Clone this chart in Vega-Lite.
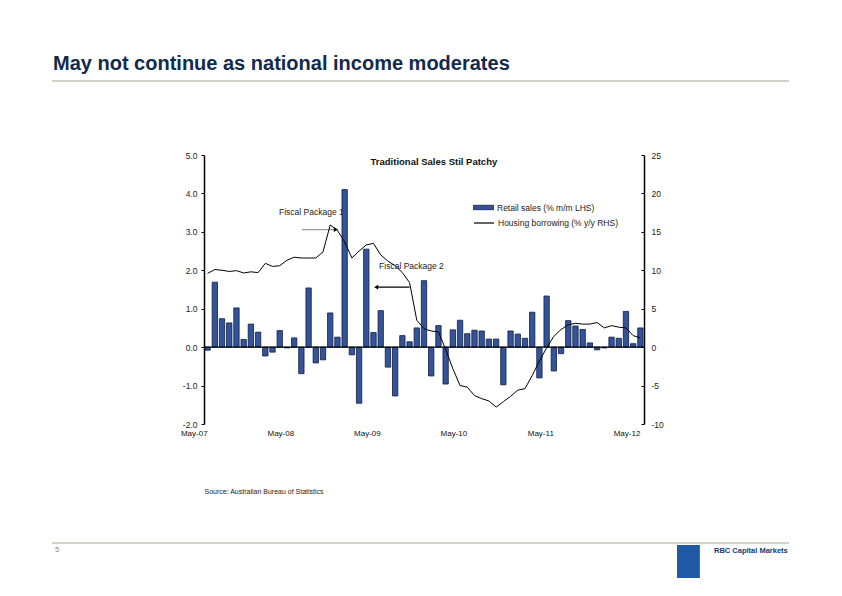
{
  "$schema": "https://vega.github.io/schema/vega-lite/v6.json",
  "width": 440,
  "height": 269,
  "autosize": {"type": "none"},
  "padding": {"left": 204, "top": 155, "right": 198, "bottom": 172},
  "background": "white",
  "title": {
    "text": "May not continue as national income moderates",
    "anchor": "start",
    "frame": "group",
    "dx": -151,
    "offset": 6,
    "fontSize": 20,
    "fontWeight": "bold",
    "font": "Liberation Sans",
    "color": "#112a4e"
  },
  "config": {
    "view": {"stroke": null},
    "font": "Liberation Sans",
    "axis": {"grid": false, "labelFont": "Liberation Sans", "labelFontSize": 8, "labelColor": "#222222", "domainColor": "#000000", "tickColor": "#000000", "labelOverlap": false},
    "legend": {"labelFont": "Liberation Sans", "labelFontSize": 8.5, "labelColor": "#222222"}
  },
  "datasets": {
    "monthly": [
      {"m": "May-07", "retail": -0.08, "housing": 9.6},
      {"m": "Jun-07", "retail": 1.69, "housing": 10.1},
      {"m": "Jul-07", "retail": 0.74, "housing": 10.0},
      {"m": "Aug-07", "retail": 0.63, "housing": 9.85},
      {"m": "Sep-07", "retail": 1.02, "housing": 9.95},
      {"m": "Oct-07", "retail": 0.20, "housing": 9.65},
      {"m": "Nov-07", "retail": 0.60, "housing": 9.8},
      {"m": "Dec-07", "retail": 0.39, "housing": 9.7},
      {"m": "Jan-08", "retail": -0.23, "housing": 10.9},
      {"m": "Feb-08", "retail": -0.13, "housing": 10.5},
      {"m": "Mar-08", "retail": 0.43, "housing": 10.6},
      {"m": "Apr-08", "retail": -0.02, "housing": 11.3},
      {"m": "May-08", "retail": 0.24, "housing": 11.7},
      {"m": "Jun-08", "retail": -0.69, "housing": 11.6},
      {"m": "Jul-08", "retail": 1.54, "housing": 11.6},
      {"m": "Aug-08", "retail": -0.41, "housing": 11.6},
      {"m": "Sep-08", "retail": -0.33, "housing": 12.4},
      {"m": "Oct-08", "retail": 0.89, "housing": 15.9},
      {"m": "Nov-08", "retail": 0.26, "housing": 15.2},
      {"m": "Dec-08", "retail": 4.10, "housing": 13.7},
      {"m": "Jan-09", "retail": -0.20, "housing": 11.6},
      {"m": "Feb-09", "retail": -1.46, "housing": 12.5},
      {"m": "Mar-09", "retail": 2.55, "housing": 13.3},
      {"m": "Apr-09", "retail": 0.38, "housing": 13.5},
      {"m": "May-09", "retail": 0.95, "housing": 12.0},
      {"m": "Jun-09", "retail": -0.52, "housing": 11.2},
      {"m": "Jul-09", "retail": -1.27, "housing": 10.6},
      {"m": "Aug-09", "retail": 0.30, "housing": 9.7},
      {"m": "Sep-09", "retail": 0.14, "housing": 8.4},
      {"m": "Oct-09", "retail": 0.50, "housing": 3.5},
      {"m": "Nov-09", "retail": 1.73, "housing": 2.4},
      {"m": "Dec-09", "retail": -0.75, "housing": 2.1},
      {"m": "Jan-10", "retail": 0.56, "housing": 2.0},
      {"m": "Feb-10", "retail": -0.96, "housing": -0.3},
      {"m": "Mar-10", "retail": 0.45, "housing": -2.8},
      {"m": "Apr-10", "retail": 0.70, "housing": -5.0},
      {"m": "May-10", "retail": 0.35, "housing": -5.2},
      {"m": "Jun-10", "retail": 0.44, "housing": -6.3},
      {"m": "Jul-10", "retail": 0.42, "housing": -6.7},
      {"m": "Aug-10", "retail": 0.21, "housing": -7.0},
      {"m": "Sep-10", "retail": 0.21, "housing": -7.8},
      {"m": "Oct-10", "retail": -0.98, "housing": -7.1},
      {"m": "Nov-10", "retail": 0.42, "housing": -6.4},
      {"m": "Dec-10", "retail": 0.34, "housing": -5.6},
      {"m": "Jan-11", "retail": 0.23, "housing": -5.4},
      {"m": "Feb-11", "retail": 0.91, "housing": -3.7},
      {"m": "Mar-11", "retail": -0.80, "housing": -1.8},
      {"m": "Apr-11", "retail": 1.33, "housing": -0.1},
      {"m": "May-11", "retail": -0.62, "housing": 1.4},
      {"m": "Jun-11", "retail": -0.17, "housing": 2.3},
      {"m": "Jul-11", "retail": 0.69, "housing": 2.9},
      {"m": "Aug-11", "retail": 0.55, "housing": 3.1},
      {"m": "Sep-11", "retail": 0.46, "housing": 3.0},
      {"m": "Oct-11", "retail": 0.11, "housing": 3.0},
      {"m": "Nov-11", "retail": -0.07, "housing": 3.2},
      {"m": "Dec-11", "retail": -0.02, "housing": 2.5},
      {"m": "Jan-12", "retail": 0.26, "housing": 2.8},
      {"m": "Feb-12", "retail": 0.23, "housing": 2.6},
      {"m": "Mar-12", "retail": 0.93, "housing": 2.5},
      {"m": "Apr-12", "retail": 0.09, "housing": 1.5},
      {"m": "May-12", "retail": 0.50, "housing": 1.2}
    ]
  },
  "layer": [
    {
      "data": {"name": "monthly"},
      "layer": [
        {
          "data": {"values": [{}]},
          "mark": {"type": "text", "text": "Fiscal Package 1", "align": "left", "baseline": "middle", "fontSize": 8.5, "color": "#222222"},
          "encoding": {
            "x": {"datum": "Mar-08", "type": "ordinal", "bandPosition": 0.37},
            "y": {"datum": 3.52, "type": "quantitative", "scale": {"domain": [-2, 5], "nice": false, "zero": false}, "axis": null}
          }
        },
        {
          "data": {"values": [{}]},
          "mark": {"type": "text", "text": "Fiscal Package 2", "align": "left", "baseline": "middle", "fontSize": 8.5, "color": "#222222"},
          "encoding": {
            "x": {"datum": "May-09", "type": "ordinal", "bandPosition": 0.2},
            "y": {"datum": 2.11, "type": "quantitative", "scale": {"domain": [-2, 5], "nice": false, "zero": false}, "axis": null}
          }
        },
        {
          "data": {"values": [{}]},
          "mark": {"type": "text", "text": "Traditional Sales Stil Patchy", "align": "center", "baseline": "middle", "fontSize": 9.5, "fontWeight": "bold", "color": "#111111"},
          "encoding": {
            "x": {"datum": "Dec-09", "type": "ordinal", "bandPosition": 1},
            "y": {"datum": 4.82, "type": "quantitative", "scale": {"domain": [-2, 5], "nice": false, "zero": false}, "axis": null}
          }
        },
        {
          "mark": {"type": "bar", "stroke": "#101c40", "strokeWidth": 0.8},
          "encoding": {
            "x": {
              "field": "m",
              "type": "ordinal",
              "sort": null,
              "scale": {
                "type": "band",
                "paddingInner": 0.26,
                "paddingOuter": 0.13,
                "domain": ["May-07","Jun-07","Jul-07","Aug-07","Sep-07","Oct-07","Nov-07","Dec-07","Jan-08","Feb-08","Mar-08","Apr-08","May-08","Jun-08","Jul-08","Aug-08","Sep-08","Oct-08","Nov-08","Dec-08","Jan-09","Feb-09","Mar-09","Apr-09","May-09","Jun-09","Jul-09","Aug-09","Sep-09","Oct-09","Nov-09","Dec-09","Jan-10","Feb-10","Mar-10","Apr-10","May-10","Jun-10","Jul-10","Aug-10","Sep-10","Oct-10","Nov-10","Dec-10","Jan-11","Feb-11","Mar-11","Apr-11","May-11","Jun-11","Jul-11","Aug-11","Sep-11","Oct-11","Nov-11","Dec-11","Jan-12","Feb-12","Mar-12","Apr-12","May-12"]
              },
              "axis": {
                "values": ["May-07", "May-08", "May-09", "May-10", "May-11", "May-12"],
                "domain": false,
                "ticks": false,
                "labelAngle": 0,
                "labelPadding": 9,
                "labelFontSize": 8,
                "labelColor": "#111111",
                "title": "Source: Australian Bureau of Statistics",
                "titleAnchor": "start",
                "titleFontSize": 7,
                "titleFontWeight": "normal",
                "titleColor": "#222222",
                "titlePadding": 50
              }
            },
            "y": {
              "field": "retail",
              "type": "quantitative",
              "scale": {"domain": [-2, 5], "nice": false, "zero": false},
              "axis": {
                "orient": "left",
                "values": [-2, -1, 0, 1, 2, 3, 4, 5],
                "labelExpr": "datum.value < 0 ? '-' + format(-datum.value, '.1f') : format(datum.value, '.1f')",
                "title": null,
                "domainWidth": 1.5,
                "tickSize": 3,
                "labelPadding": 4,
                "labelFontSize": 8.5
              }
            },
            "color": {
              "datum": "Retail sales (% m/m LHS)",
              "type": "nominal",
              "scale": {"range": ["#34549a"]},
              "legend": {
                "orient": "none",
                "legendX": 269,
                "legendY": 42,
                "title": null,
                "padding": 0,
                "symbolType": "M-1,-0.22H1V0.22H-1Z",
                "symbolSize": 400,
                "symbolStrokeColor": "#101c40",
                "symbolStrokeWidth": 0.8,
                "labelOffset": 3
              }
            }
          }
        },
        {
          "data": {"values": [{}]},
          "mark": {"type": "rule", "color": "#000000", "strokeWidth": 1.2},
          "encoding": {"y": {"datum": 0, "type": "quantitative", "scale": {"domain": [-2, 5], "nice": false, "zero": false}, "axis": null}}
        },
        {
          "data": {"values": [{}]},
          "mark": {"type": "rule", "color": "#9a9a9a", "strokeWidth": 1.2},
          "encoding": {
            "x": {"datum": "Jun-08", "type": "ordinal", "bandPosition": 0.6},
            "x2": {"datum": "Nov-08"},
            "y": {"datum": 3.06, "type": "quantitative", "scale": {"domain": [-2, 5], "nice": false, "zero": false}, "axis": null}
          }
        },
        {
          "data": {"values": [{}]},
          "mark": {"type": "point", "shape": "triangle-right", "filled": true, "color": "#000000", "size": 22, "opacity": 1},
          "encoding": {
            "x": {"datum": "Nov-08", "type": "ordinal", "bandPosition": 0.2},
            "y": {"datum": 3.06, "type": "quantitative", "scale": {"domain": [-2, 5], "nice": false, "zero": false}, "axis": null}
          }
        },
        {
          "data": {"values": [{}]},
          "mark": {"type": "rule", "color": "#000000", "strokeWidth": 1.2},
          "encoding": {
            "x": {"datum": "Apr-09", "type": "ordinal", "bandPosition": 1},
            "x2": {"datum": "Sep-09"},
            "y": {"datum": 1.56, "type": "quantitative", "scale": {"domain": [-2, 5], "nice": false, "zero": false}, "axis": null}
          }
        },
        {
          "data": {"values": [{}]},
          "mark": {"type": "point", "shape": "triangle-left", "filled": true, "color": "#000000", "size": 22, "opacity": 1},
          "encoding": {
            "x": {"datum": "Apr-09", "type": "ordinal", "bandPosition": 1},
            "y": {"datum": 1.56, "type": "quantitative", "scale": {"domain": [-2, 5], "nice": false, "zero": false}, "axis": null}
          }
        },
        {
          "mark": {"type": "line", "strokeWidth": 1, "interpolate": "linear"},
          "encoding": {
            "x": {"field": "m", "type": "ordinal", "sort": null, "bandPosition": 0.5},
            "y": {
              "field": "housing",
              "type": "quantitative",
              "scale": {"domain": [-10, 25], "nice": false, "zero": false},
              "axis": {
                "orient": "right",
                "values": [-10, -5, 0, 5, 10, 15, 20, 25],
                "labelExpr": "datum.value < 0 ? '-' + format(-datum.value, 'd') : format(datum.value, 'd')",
                "title": null,
                "domainWidth": 1.5,
                "tickSize": -3,
                "labelPadding": 10,
                "labelFontSize": 8.5
              }
            },
            "stroke": {
              "datum": "Housing borrowing (% y/y RHS)",
              "type": "nominal",
              "scale": {"range": ["#000000"]},
              "legend": {
                "orient": "none",
                "legendX": 269,
                "legendY": 57,
                "title": null,
                "padding": 0,
                "symbolType": "stroke",
                "symbolSize": 400,
                "symbolStrokeWidth": 1.2,
                "labelOffset": 3
              }
            }
          }
        }
      ],
      "resolve": {"scale": {"y": "independent"}}
    },
    {
      "data": {"values": [{}]},
      "layer": [
        {
          "mark": {"type": "rule", "color": "#a8a592", "strokeWidth": 1},
          "encoding": {
            "x": {"datum": -0.3455, "type": "quantitative", "scale": {"domain": [0, 1], "nice": false, "zero": false}, "axis": null},
            "x2": {"datum": 1.3295},
            "y": {"datum": 6.926, "type": "quantitative", "scale": {"domain": [-2, 5], "nice": false, "zero": false}, "axis": null}
          }
        },
        {
          "mark": {"type": "rule", "color": "#a8a592", "strokeWidth": 1},
          "encoding": {
            "x": {"datum": -0.3455, "type": "quantitative", "axis": null},
            "x2": {"datum": 1.3295},
            "y": {"datum": -5.097, "type": "quantitative", "axis": null}
          }
        },
        {
          "mark": {"type": "text", "text": "5", "align": "left", "baseline": "middle", "fontSize": 8, "color": "#8a8a8a"},
          "encoding": {
            "x": {"datum": -0.3386, "type": "quantitative", "axis": null},
            "y": {"datum": -5.279, "type": "quantitative", "axis": null}
          }
        },
        {
          "mark": {"type": "rect", "color": "#1f5aa6"},
          "encoding": {
            "x": {"datum": 1.075, "type": "quantitative", "axis": null},
            "x2": {"datum": 1.127},
            "y": {"datum": -5.149, "type": "quantitative", "axis": null},
            "y2": {"datum": -6.007}
          }
        },
        {
          "mark": {"type": "text", "text": "RBC Capital Markets", "align": "left", "baseline": "middle", "fontSize": 7.5, "fontWeight": "bold", "color": "#0e3a7a"},
          "encoding": {
            "x": {"datum": 1.159, "type": "quantitative", "axis": null},
            "y": {"datum": -5.305, "type": "quantitative", "axis": null}
          }
        }
      ]
    }
  ],
  "resolve": {"scale": {"x": "independent", "y": "independent"}}
}
